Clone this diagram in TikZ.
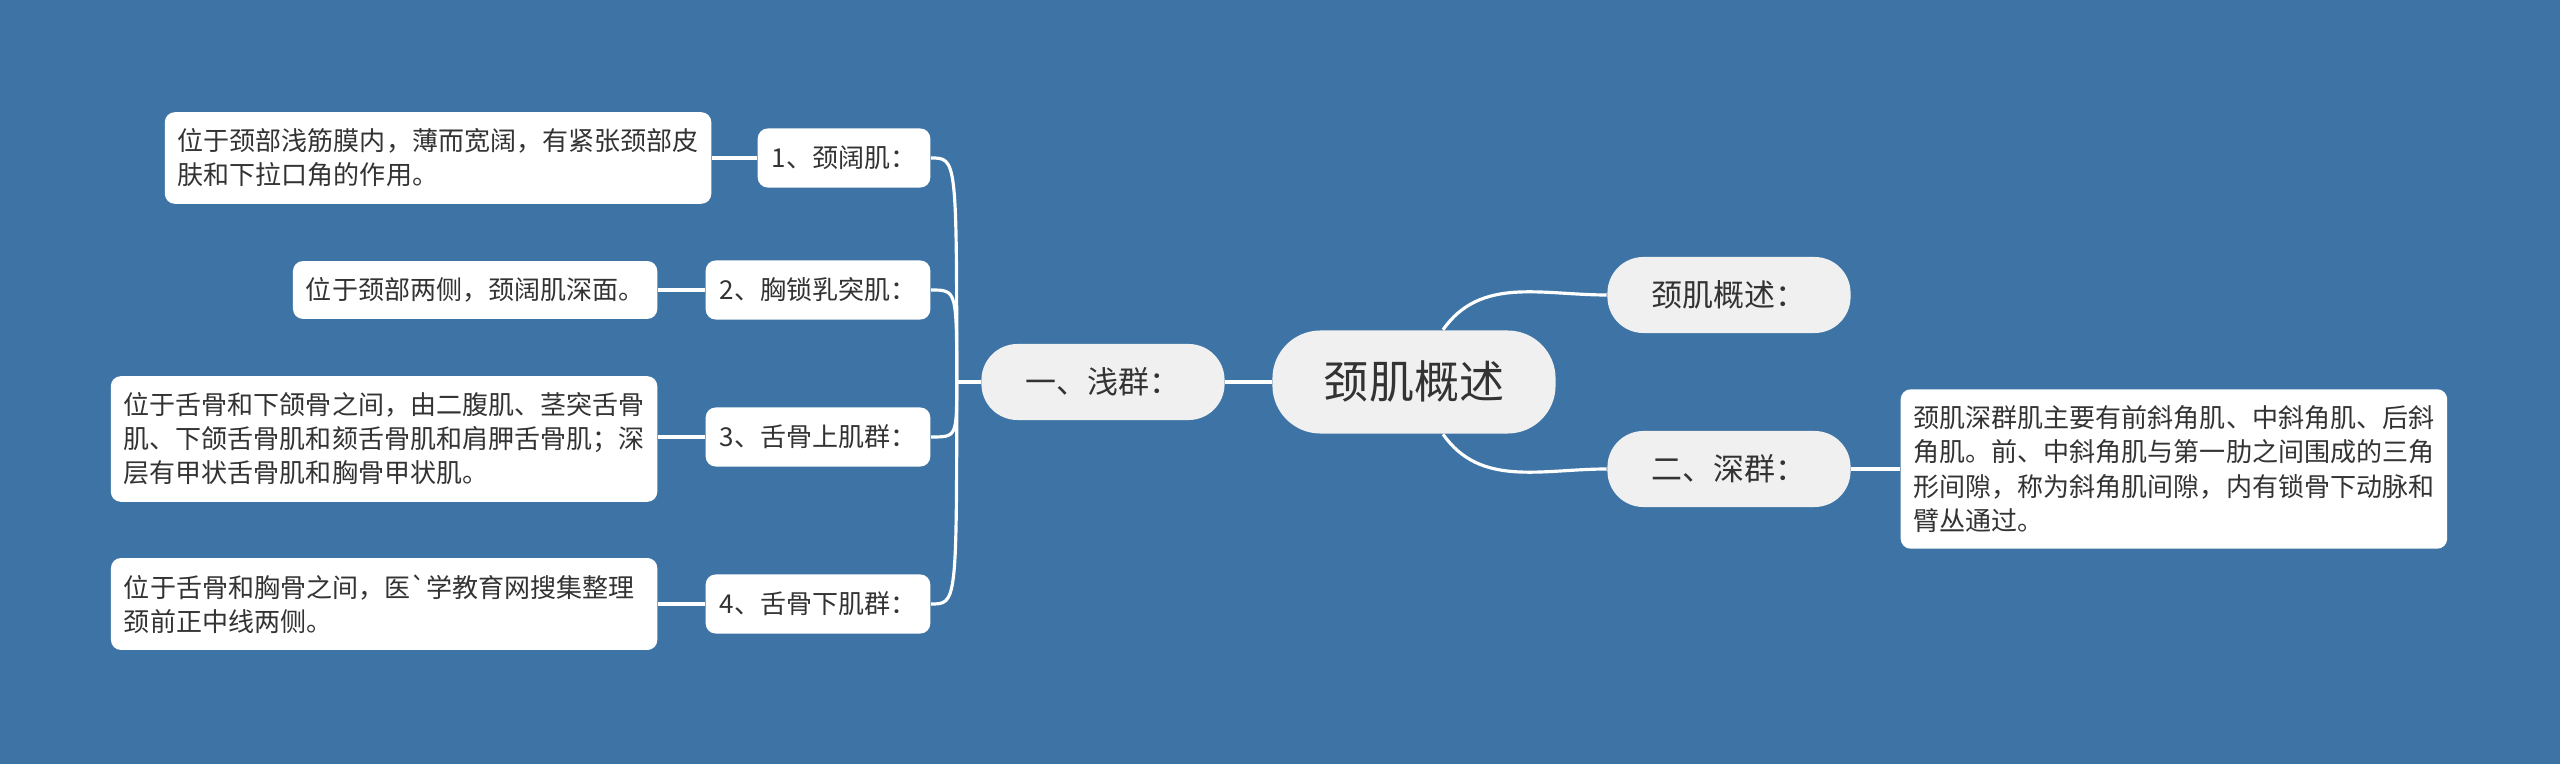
\documentclass[tikz,border=0pt]{standalone}
\usepackage{fontspec}
\newfontfamily\cjkfont{Noto Sans CJK SC}
\usepackage{xcolor}
\definecolor{bgblue}{HTML}{3E74A5}
\definecolor{bubble}{HTML}{F0F0F0}
\definecolor{ink}{HTML}{333333}

\begin{document}
\begin{tikzpicture}[x=0.01cm,y=-0.01cm,font=\cjkfont,text=ink,
  link/.style={draw=white,line width=0.9pt},
  rootnode/.style={fill=bubble,rounded corners=0.48cm,minimum width=2.83cm,minimum height=1.03cm,font=\cjkfont\fontsize{12.8pt}{14pt}\selectfont},
  topic/.style={fill=bubble,rounded corners=0.36cm,minimum width=2.43cm,minimum height=0.76cm,font=\cjkfont\fontsize{8.8pt}{10pt}\selectfont},
  subtopic/.style={fill=white,rounded corners=0.1cm,inner xsep=0.14cm,minimum height=0.59cm,font=\cjkfont\fontsize{7.4pt}{9pt}\selectfont},
  notebox/.style={fill=white,rounded corners=0.1cm,inner xsep=0.13cm,inner ysep=4.7pt,align=left,font=\cjkfont\fontsize{7.4pt}{9.7pt}\selectfont}]
\fill[bgblue] (0,0) rectangle (2560,764);
\useasboundingbox (0,0) rectangle (2560,764);

% centre and main branches
\node[rootnode] (root) at (1414,382) {颈肌概述};
\node[topic] (shallow) at (1103,382) {一、浅群：};
\node[topic] (summary) at (1729,295) {颈肌概述：};
\node[topic] (deep) at (1729,469) {二、深群：};

% shallow group
\node[subtopic,anchor=east] (m1) at (931,158) {1、颈阔肌：};
\node[subtopic,anchor=east] (m2) at (931,290) {2、胸锁乳突肌：};
\node[subtopic,anchor=east] (m3) at (931,437) {3、舌骨上肌群：};
\node[subtopic,anchor=east] (m4) at (931,604) {4、舌骨下肌群：};

\node[notebox,anchor=east] (t1) at (712,158) {位于颈部浅筋膜内，薄而宽阔，有紧张颈部皮\\肤和下拉口角的作用。};
\node[notebox,anchor=east] (t2) at (658,290) {位于颈部两侧，颈阔肌深面。};
\node[notebox,anchor=east] (t3) at (658,439) {位于舌骨和下颌骨之间，由二腹肌、茎突舌骨\\肌、下颌舌骨肌和颏舌骨肌和肩胛舌骨肌；深\\层有甲状舌骨肌和胸骨甲状肌。};
\node[notebox,anchor=east,text width=5.2cm] (t4) at (658,604) {位于舌骨和胸骨之间，医`学教育网搜集整理\\颈前正中线两侧。};

% deep group
\node[notebox,anchor=west] (tdeep) at (1900,469) {颈肌深群肌主要有前斜角肌、中斜角肌、后斜\\角肌。前、中斜角肌与第一肋之间围成的三角\\形间隙，称为斜角肌间隙，内有锁骨下动脉和\\臂丛通过。};

% connectors
\draw[link] (root.west) -- (shallow.east);
\draw[link] ([xshift=0.29cm]root.north) to[out=55,in=180] (summary.west);
\draw[link] ([xshift=0.29cm]root.south) to[out=-55,in=180] (deep.west);
\draw[link] (deep.east) -- (tdeep.west);

\coordinate (fork) at ([xshift=-0.24cm]shallow.west);
\draw[link] (shallow.west) -- (fork);
\foreach \m in {m1,m2,m3,m4}
  \draw[link] (fork) .. controls (fork |- \m.east) .. (\m.east);

\draw[link] (m1.west) -- (t1.east);
\draw[link] (m2.west) -- (t2.east);
\draw[link] (m3.west) -- (m3.west -| t3.east);
\draw[link] (m4.west) -- (t4.east);
\end{tikzpicture}
\end{document}
